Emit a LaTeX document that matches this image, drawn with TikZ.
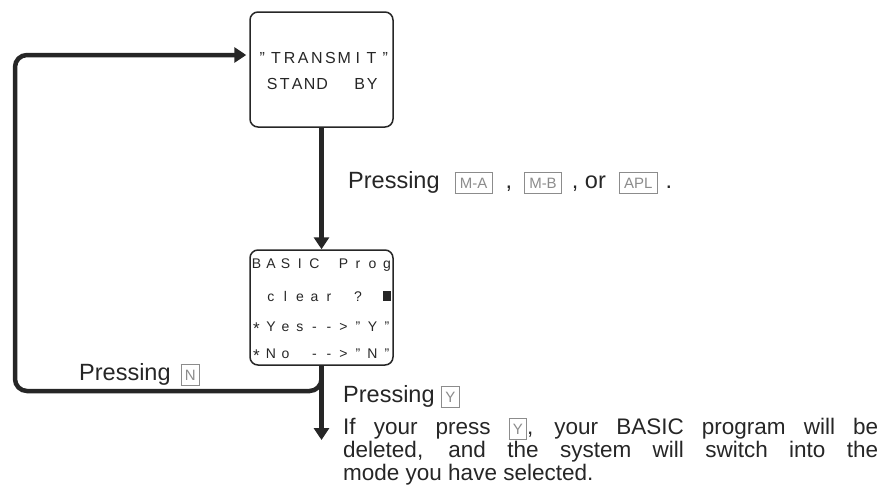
\documentclass[tikz,border=0pt]{standalone}
\usepackage{fontspec}
\setmainfont{Liberation Sans}
\usetikzlibrary{arrows.meta}
\definecolor{ink}{HTML}{262626}
\definecolor{keyc}{HTML}{8C8C8C}
% fixed-width character grid for LCD text
\def\lcdstop{LCDSTOP}
\def\lcd#1#2{\def\lcdw{#1}\lcdnext#2\lcdstop}
\def\lcdnext#1{\ifx#1\lcdstop\else\makebox[\lcdw]{#1}\expandafter\lcdnext\fi}
\newcommand\lcdblk{\rule{7.5pt}{10pt}}
\newcommand\lcdast{\raisebox{-3pt}{\fontsize{17}{17}\selectfont *}}
% key caps
\newcommand\keycap[2][]{{\setlength\fboxsep{0pt}\setlength\fboxrule{0.7pt}%
  \fcolorbox{keyc}{white}{\color{keyc}\fontsize{15}{15}\selectfont\rule[-4.5pt]{0pt}{20pt}%
  \ifx\relax#1\relax\hspace{4.5pt}#2\hspace{4.5pt}\else\makebox[#1]{#2}\fi}}}
\tikzset{
  conn/.style={draw=ink, line width=4.5pt, -{Triangle[width=15pt,length=12pt]}},
  lcdbox/.style={draw=ink, line width=1.5pt, rounded corners=8pt, inner sep=0pt},
  lcdtext/.style={inner sep=0pt, text=ink, anchor=base west},
  label/.style={inner sep=0pt, text=ink, anchor=base west, font=\fontsize{23.5}{24}\selectfont},
}
\begin{document}
\begin{tikzpicture}[x=1pt, y=-1pt]
\useasboundingbox (0,0) rectangle (883,498);
% boxes
\node[lcdbox, minimum width=143pt, minimum height=115pt] (b1) at (321.5,69.5) {};
\node[lcdbox, minimum width=143pt, minimum height=115pt] (b2) at (321.5,307.5) {};
% box 1 text
\node[lcdtext, font=\fontsize{16}{16}\selectfont] (t1a) at (255.2,63) {\lcd{13.67pt}{"TRANSMIT"}};
\node[lcdtext, font=\fontsize{16}{16}\selectfont] (t1b) at (265.7,89) {\lcd{12.5pt}{STAND~~BY}};
% box 2 text
\node[lcdtext, font=\fontsize{14}{14}\selectfont] (t2a) at (249,268.5) {\lcd{14.5pt}{BASIC~Prog}};
\node[lcdtext, font=\fontsize{14}{14}\selectfont] (t2b) at (249,301) {\lcd{14.5pt}{~clear~?~\lcdblk}};
\node[lcdtext, font=\fontsize{14}{14}\selectfont] (t2c) at (249,331) {\lcd{14.5pt}{\lcdast Yes-->"Y"}};
\node[lcdtext, font=\fontsize{14}{14}\selectfont] (t2d) at (249,358) {\lcd{14.5pt}{\lcdast No~-->"N"}};
% connectors
\coordinate (out) at (321.5,440);
\draw[conn] (b1) -- (b2);
\draw[conn] (b2.south) -- (out);
\draw[conn, rounded corners=12pt, shorten >=3pt] (b2.south) -- (b2.south |- 0,391) -- (15,391) -- (15,55) -- ([yshift=14.5pt]b1.west);
% labels
\node[label] (lab1) at (348,188) {Pressing\hspace{15pt}\keycap{M-A}\hspace{13pt},\hspace{12pt}\keycap{M-B}\hspace{10pt}, or\hspace{13pt}\keycap{APL}\hspace{8pt}.};
\node[label] (lab2) at (79,380) {Pressing\hspace{10pt}\keycap[18pt]{N}};
\node[label] (lab3) at (343,402) {Pressing\hspace{6pt}\keycap[18pt]{Y}};
\node[inner sep=0pt, text=ink, anchor=base west, text width=535pt, align=justify,
      font=\fontsize{22.5}{23}\selectfont] (para) at (343,434)
  {\tolerance=10000\emergencystretch=20pt If your press \keycap[17pt]{Y}, your BASIC program will be\linebreak
   deleted, and the system will switch into the\linebreak mode you have selected.};
\end{tikzpicture}
\end{document}
